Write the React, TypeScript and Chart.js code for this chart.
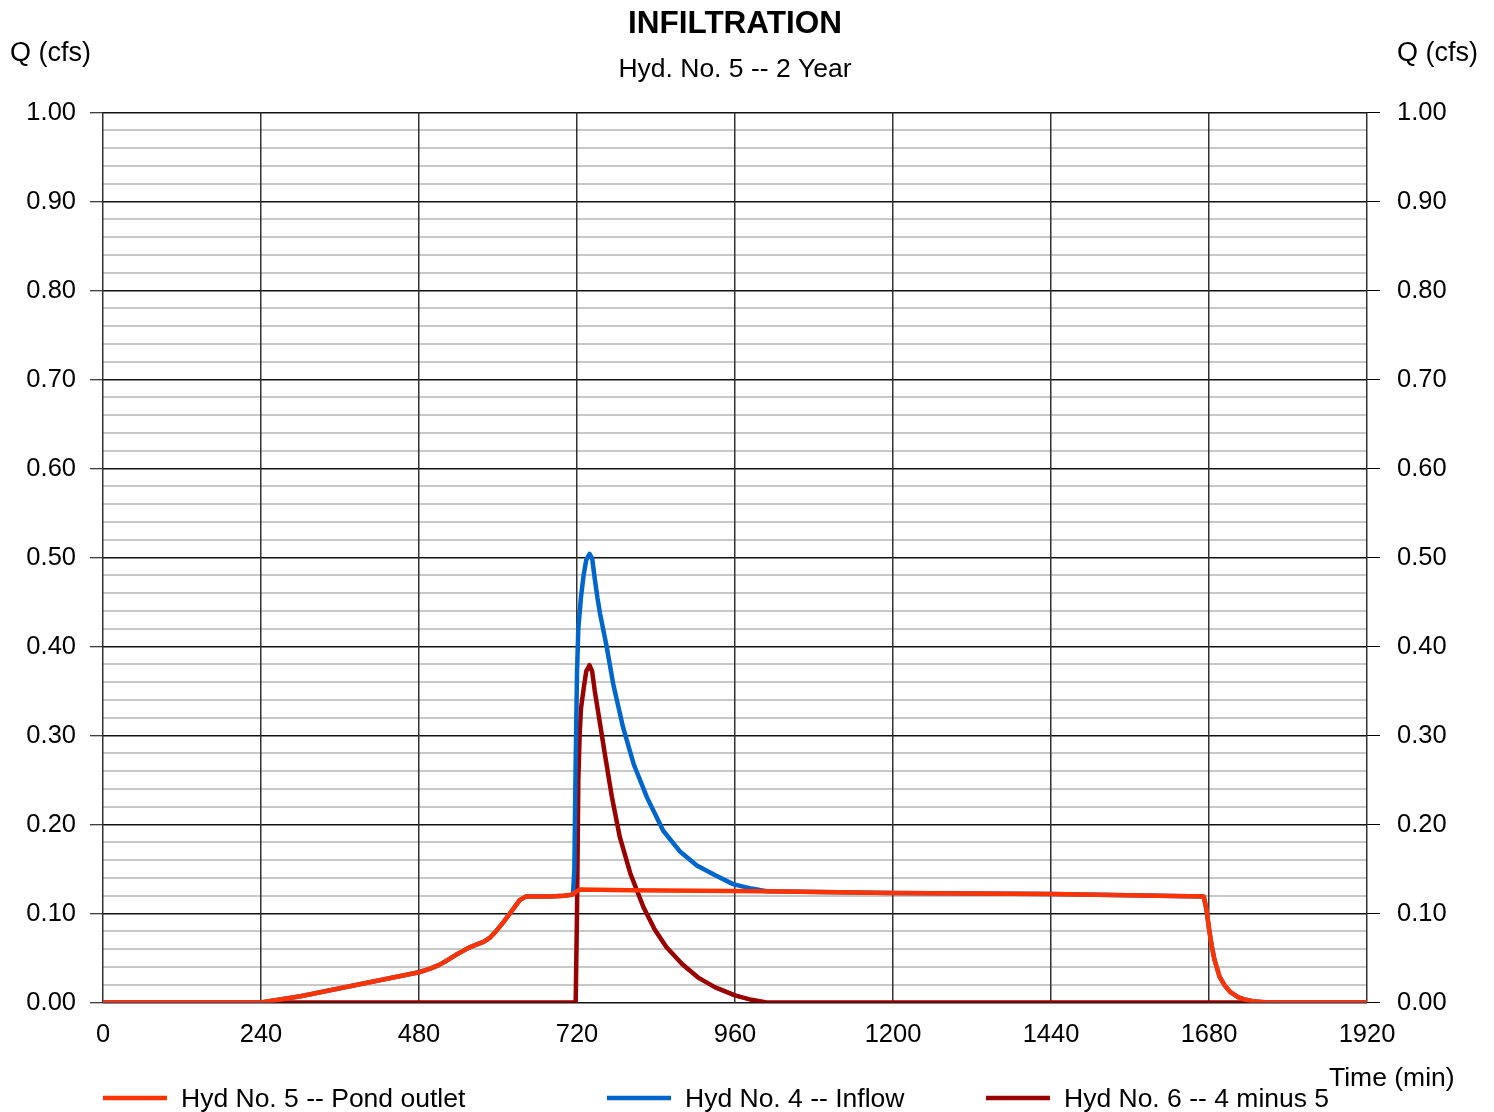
import React, { useEffect, useRef } from "react";
import { Chart, registerables } from "chart.js";

Chart.register(...registerables);

// ---------- data ----------
const titleText = "INFILTRATION";
const subtitleText = "Hyd. No. 5 -- 2 Year";
const yAxisLabel = "Q (cfs)";
const xAxisLabel = "Time (min)";

const seriesLabels = ["Hyd No. 5 -- Pond outlet", "Hyd No. 4 -- Inflow", "Hyd No. 6 -- 4 minus 5"];
const seriesColors = ["#FF3300", "#0066CC", "#990000"];

const outletTime = [0, 240, 300, 360, 420, 480, 497, 510, 522, 535, 547, 557, 567, 578, 588, 598, 608, 618, 626, 633, 642, 680, 700, 712, 718, 724, 800, 1000, 1200, 1440, 1672, 1676, 1680, 1684, 1688, 1696, 1704, 1712, 1724, 1736, 1750, 1770, 1920];
const outletFlow = [0, 0, 0.007, 0.016, 0.025, 0.034, 0.038, 0.042, 0.047, 0.053, 0.058, 0.062, 0.065, 0.068, 0.073, 0.081, 0.09, 0.1, 0.108, 0.115, 0.119, 0.119, 0.12, 0.121, 0.124, 0.127, 0.126, 0.125, 0.123, 0.122, 0.119, 0.105, 0.083, 0.064, 0.049, 0.029, 0.019, 0.012, 0.006, 0.003, 0.001, 0, 0];

const inflowTime = [0, 240, 300, 360, 420, 480, 497, 510, 522, 535, 547, 557, 567, 578, 588, 598, 608, 618, 626, 633, 642, 680, 700, 712, 714, 716, 718, 720, 722, 726, 730, 734, 739, 743, 747, 751, 755, 765, 775, 790, 806, 826, 851, 876, 902, 930, 957, 985, 1008, 1200, 1440, 1672, 1676, 1680, 1684, 1688, 1696, 1704, 1712, 1724, 1736, 1750, 1770, 1920];
const inflowFlow = [0, 0, 0.007, 0.016, 0.025, 0.034, 0.038, 0.042, 0.047, 0.053, 0.058, 0.062, 0.065, 0.068, 0.073, 0.081, 0.09, 0.1, 0.108, 0.115, 0.119, 0.119, 0.12, 0.121, 0.122, 0.15, 0.27, 0.37, 0.42, 0.455, 0.48, 0.497, 0.504, 0.499, 0.476, 0.455, 0.437, 0.4, 0.358, 0.309, 0.268, 0.231, 0.193, 0.17, 0.154, 0.143, 0.133, 0.128, 0.125, 0.123, 0.122, 0.119, 0.105, 0.083, 0.064, 0.049, 0.029, 0.019, 0.012, 0.006, 0.003, 0.001, 0, 0];

const diffTime = [0, 718, 720, 722, 724, 726, 730, 734, 739, 743, 747, 755, 763, 773, 785, 801, 821, 838, 856, 880, 904, 930, 960, 985, 1008, 1920];
const diffFlow = [0, 0, 0.1, 0.25, 0.3, 0.33, 0.352, 0.372, 0.379, 0.372, 0.35, 0.313, 0.276, 0.231, 0.186, 0.145, 0.107, 0.082, 0.062, 0.043, 0.028, 0.017, 0.008, 0.003, 0, 0];

const xMin = 0;
const xMax = 1920;
const xStep = 240;
const yMin = 0;
const yMax = 1;
const yStep = 0.02;

// ---------- styling ----------
const FONT = "'Liberation Sans', Arial, Helvetica, sans-serif";
const W = 1494;
const H = 1112;

const isMajor = (v: number) => Math.abs(v * 10 - Math.round(v * 10)) < 1e-6;

const textPlugin = {
  id: "customText",
  afterDraw(chart: any) {
    const ctx = chart.ctx;
    const area = chart.chartArea;
    ctx.save();
    ctx.fillStyle = "#000";
    ctx.textBaseline = "alphabetic";
    const cx = (area.left + area.right) / 2;
    ctx.font = `bold 31.5px ${FONT}`;
    ctx.textAlign = "center";
    ctx.fillText(titleText, cx, 33);
    ctx.font = `26.5px ${FONT}`;
    ctx.fillText(subtitleText, cx, 77);
    ctx.textAlign = "left";
    ctx.font = `27px ${FONT}`;
    ctx.fillText(yAxisLabel, 10, 61);
    ctx.fillText(yAxisLabel, 1397, 61);
    ctx.font = `26.5px ${FONT}`;
    ctx.fillText(xAxisLabel, 1329, 1086);

    // legend
    const legendX = [103, 607, 986];
    const legendY = 1098;
    chart.data.datasets.forEach((ds: any, i: number) => {
      ctx.strokeStyle = ds.borderColor;
      ctx.lineWidth = 4.5;
      ctx.lineCap = "butt";
      ctx.beginPath();
      ctx.moveTo(legendX[i], legendY);
      ctx.lineTo(legendX[i] + 64, legendY);
      ctx.stroke();
      ctx.fillStyle = "#000";
      ctx.fillText(ds.label, legendX[i] + 78, 1107);
    });
    ctx.restore();
  },
};

const tickFont = { family: FONT, size: 25.5 };

export default function App() {
  const ref = useRef<HTMLCanvasElement>(null);
  useEffect(() => {
    if (!ref.current) return;
    const mk = (t: number[], q: number[]) => t.map((x, i) => ({ x, y: q[i] }));
    const series = [mk(outletTime, outletFlow), mk(inflowTime, inflowFlow), mk(diffTime, diffFlow)];
    const chart = new Chart(ref.current, {
      type: "line",
      data: {
        datasets: series.map((d, i) => ({
          label: seriesLabels[i],
          data: d,
          borderColor: seriesColors[i],
          backgroundColor: seriesColors[i],
          borderWidth: 4.5,
          pointRadius: 0,
          tension: 0,
          fill: false,
          borderJoinStyle: "round" as const,
          borderCapStyle: "round" as const,
        })),
      },
      options: {
        responsive: false,
        animation: false,
        devicePixelRatio: 1,
        layout: { padding: { top: 112.5, left: 0, right: 0, bottom: 0 } },
        plugins: {
          legend: { display: false },
          tooltip: { enabled: false },
          title: { display: false },
        },
        scales: {
          x: {
            type: "linear",
            position: "bottom",
            min: xMin,
            max: xMax,
            ticks: {
              stepSize: xStep,
              autoSkip: false,
              maxRotation: 0,
              color: "#000",
              font: tickFont,
              padding: 17,
              callback: (v: any) => String(v),
            },
            grid: { color: "#333", lineWidth: 1.5, drawTicks: false, z: -1 },
            border: { display: false },
            afterFit: (s: any) => {
              s.height = 109.5;
            },
          },
          y: {
            type: "linear",
            position: "left",
            min: yMin,
            max: yMax,
            ticks: {
              stepSize: yStep,
              maxTicksLimit: 200,
              autoSkip: false,
              color: "#000",
              font: tickFont,
              padding: 14,
              callback: (v: any) => (isMajor(Number(v)) ? Number(v).toFixed(2) : ""),
            },
            grid: {
              z: -2,
              color: (c: any) => (isMajor(c.tick.value) ? "#111" : "#c8c8c8"),
              lineWidth: (c: any) => (isMajor(c.tick.value) ? 1.5 : 2),
              tickLength: 13,
              tickColor: (c: any) => (isMajor(c.tick.value) ? "#000" : "rgba(0,0,0,0)"),
              tickWidth: 1,
            },
            border: { display: false },
            afterFit: (s: any) => {
              s.width = 103;
            },
          },
          y2: {
            type: "linear",
            position: "right",
            min: yMin,
            max: yMax,
            ticks: {
              stepSize: yStep,
              maxTicksLimit: 200,
              autoSkip: false,
              color: "#000",
              font: tickFont,
              padding: 17,
              callback: (v: any) => (isMajor(Number(v)) ? Number(v).toFixed(2) : ""),
            },
            grid: {
              z: -2,
              drawOnChartArea: false,
              tickLength: 13,
              tickColor: (c: any) => (isMajor(c.tick.value) ? "#000" : "rgba(0,0,0,0)"),
              tickWidth: 1,
            },
            border: { display: false },
            afterFit: (s: any) => {
              s.width = 127;
            },
          },
        },
      } as any,
      plugins: [textPlugin],
    });
    return () => chart.destroy();
  }, []);

  return (
    <div style={{ position: "absolute", left: 0, top: 0, width: W, height: H, background: "#fff" }}>
      <canvas ref={ref} width={W} height={H} style={{ display: "block", width: W, height: H }} />
    </div>
  );
}
